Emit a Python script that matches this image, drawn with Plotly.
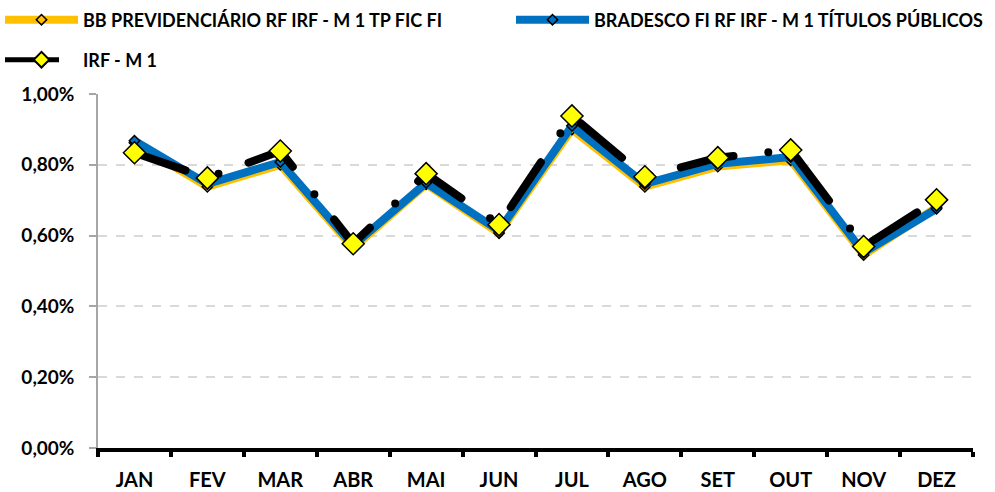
import plotly.graph_objects as go

months = ["JAN", "FEV", "MAR", "ABR", "MAI", "JUN", "JUL", "AGO", "SET", "OUT", "NOV", "DEZ"]
bb_prev = [0.862, 0.738, 0.800, 0.565, 0.745, 0.607, 0.900, 0.738, 0.795, 0.813, 0.545, 0.680]
bradesco = [0.868, 0.746, 0.808, 0.572, 0.749, 0.614, 0.910, 0.746, 0.803, 0.822, 0.552, 0.676]
irf_m1 = [0.834, 0.763, 0.839, 0.577, 0.775, 0.631, 0.938, 0.766, 0.820, 0.842, 0.569, 0.701]

names = ["BB PREVIDENCIÁRIO RF IRF - M 1 TP FIC FI",
         "BRADESCO FI RF IRF - M 1 TÍTULOS PÚBLICOS",
         "IRF - M 1"]

FONT = "Lato"

fig = go.Figure()
fig.add_trace(go.Scatter(
    x=months, y=[v / 100 for v in bb_prev], name=names[0], mode="lines+markers",
    line=dict(color="#FFC000", width=8),
    marker=dict(symbol="diamond", size=8, color="#FFC000", line=dict(color="black", width=1.5)),
    cliponaxis=False, legend="legend"))
fig.add_trace(go.Scatter(
    x=months, y=[v / 100 for v in bradesco], name=names[1], mode="lines+markers",
    line=dict(color="#0070C0", width=8),
    marker=dict(symbol="diamond", size=8, color="#0070C0", line=dict(color="black", width=1.5)),
    cliponaxis=False, legend="legend3"))
fig.add_trace(go.Scatter(
    x=months, y=[v / 100 for v in irf_m1], name=names[2], mode="lines+markers",
    line=dict(color="black", width=8, dash="54px,35px,0px,32px"),
    marker=dict(symbol="diamond", size=17, color="#FFFF00", line=dict(color="black", width=1.5)),
    cliponaxis=False, legend="legend2"))

legend_font = dict(family=FONT, size=18, color="black", weight="bold")
leg_common = dict(orientation="h", xref="container", yref="container",
                  xanchor="left", yanchor="middle", font=legend_font, itemwidth=73,
                  bgcolor="rgba(0,0,0,0)")
fig.update_layout(
    width=995, height=492,
    showlegend=True,
    margin=dict(l=98, r=22, t=94, b=44, autoexpand=False),
    plot_bgcolor="white", paper_bgcolor="white",
    separators=",.",
    font=dict(family=FONT, color="black"),
    legend=dict(x=0.0, y=1 - 20 / 492, itemsizing="trace", **leg_common),
    legend3=dict(x=511 / 995, y=1 - 20 / 492, itemsizing="trace", **leg_common),
    legend2=dict(x=0.0, y=1 - 60 / 492, itemsizing="constant", **leg_common),
    xaxis=dict(type="category", showline=True, linecolor="black", linewidth=3.5,
               ticks="outside", tickson="boundaries", ticklen=5, tickwidth=4, tickcolor="black",
               showgrid=False, automargin=False,
               tickfont=dict(family=FONT, size=20, color="black", weight="bold"),
               ticklabelstandoff=11, range=[-0.5, 11.5]),
    yaxis=dict(range=[0, 0.01], tickvals=[0, 0.002, 0.004, 0.006, 0.008, 0.01],
               tickformat=".2%", showline=True, linecolor="#a6a6a6", linewidth=1.5,
               ticks="outside", ticklen=7, tickwidth=1.5, tickcolor="#a6a6a6", automargin=False,
               showgrid=True, gridcolor="#d9d9d9", gridwidth=1.5, griddash="dash",
               zeroline=False, tickfont=dict(family=FONT, size=19, color="black", weight="bold"),
               ticklabelstandoff=11),
)

post = """
document.body.style.margin='0';
document.body.style.padding='0';
document.querySelectorAll('.scatterlayer .js-line').forEach(function(p){
  p.style.strokeLinecap='round'; p.style.strokeLinejoin='round';
});
"""
fig.write_html("out.html", post_script=post, config={"displayModeBar": False})
